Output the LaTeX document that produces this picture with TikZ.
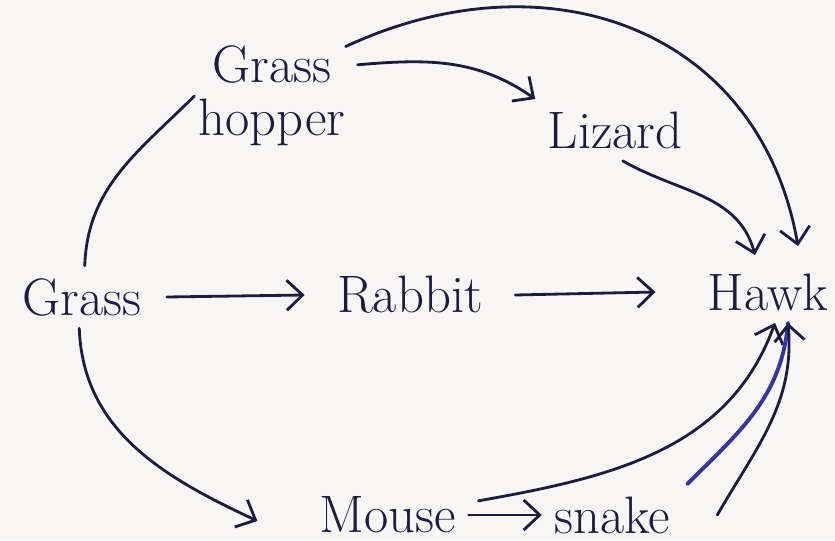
\documentclass[tikz,border=0pt]{standalone}
\usepackage{tikz}
\usetikzlibrary{arrows.meta, positioning}
\definecolor{ink}{RGB}{28,28,64}
\definecolor{pen}{RGB}{52,52,168}
\definecolor{paper}{RGB}{248,246,245}
\tikzset{
  Label1/.style = {
    font = \fontsize{15}{15}\selectfont,
    text = ink,
    align = center,
  },
  Line1/.style = {
    draw = ink,
    line width = 0.8pt,
    line cap = round,
  },
  Arrow1/.style = {
    Line1,
    -{Straight Barb[length = 1.6mm, width = 3mm]},
  }
}

\begin{document}
\begin{tikzpicture}
      \fill[paper] (0,0) rectangle (8.35,5.40);
      \useasboundingbox (0,0) rectangle (8.35,5.40);
      \draw
        (0.82,2.43)node[Label1](grass){Grass}
        (4.10,2.45)node[Label1](rabbit){Rabbit}
        (7.68,2.48)node[Label1](hawk){Hawk}
        (2.72,4.44)node[Label1](ghop){Grass\\hopper}
        (6.15,4.10)node[Label1](lizard){Lizard}
        (3.88,0.25)node[Label1](mouse){Mouse}
        (6.12,0.25)node[Label1](snake){snake};
      \draw[Arrow1] ([xshift=1.3mm]grass.east) -- ([xshift=-2mm]rabbit.west);
      \draw[Arrow1] ([xshift=2mm]rabbit.east) -- ([xshift=-4mm]hawk.west);
      \draw[Line1] (grass.85) to[out=88, in=225] ([xshift=0.8mm]ghop.west);
      \draw[Arrow1] (grass.265) to[out=-88, in=155] ([xshift=-5mm, yshift=-0.6mm]mouse.west);
      \draw[Arrow1] (ghop.20) to[out=5, in=145] (lizard.north west);
      \draw[Arrow1] ([xshift=-1.2mm]ghop.30) to[out=25, in=100, looseness=1.15] ([xshift=3mm, yshift=1.5mm]hawk.north);
      \draw[Arrow1] ([xshift=-1mm]lizard.-60) to[out=-30, in=105] ([xshift=-1.3mm, yshift=0.6mm]hawk.north);
      \draw[Arrow1] ([xshift=1mm]mouse.10) to[out=10, in=250] ([xshift=0.7mm]hawk.south);
      \draw[Arrow1] (mouse.east) -- (snake.west);
      \draw[Line1, pen, line width=1.1pt] ([xshift=0.5mm]snake.north east) to[out=45, in=265] ([xshift=2mm]hawk.south);
      \draw[Arrow1] ([xshift=3.5mm]snake.east) to[out=60, in=275] ([xshift=2mm]hawk.south);
    \end{tikzpicture}
\end{document}
